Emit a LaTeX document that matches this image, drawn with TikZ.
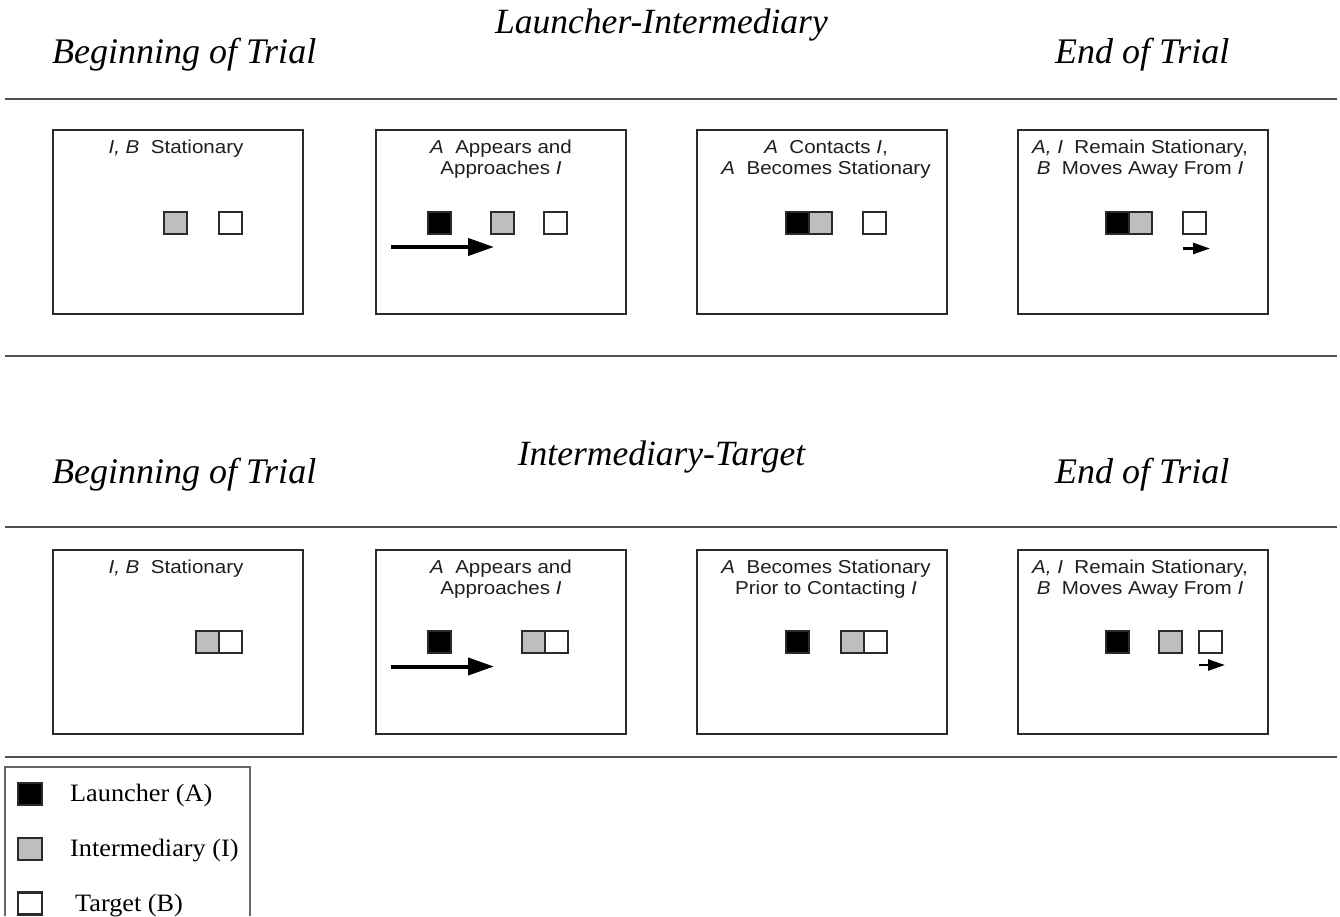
\documentclass[tikz,border=0pt]{standalone}
\usepackage{fontspec}
\setmainfont{Liberation Serif}
\newfontfamily\panelfont[FakeStretch=1.1]{Liberation Sans}
\newfontfamily\legfont[FakeStretch=1.05]{Liberation Serif}
\usetikzlibrary{arrows.meta}
\definecolor{edgegray}{HTML}{2A2A2A}
\definecolor{rulegray}{HTML}{505050}
\definecolor{midgray}{HTML}{BEBEBE}
\begin{document}
\begin{tikzpicture}[x=1pt,y=-1pt,
  hrule/.style={draw=rulegray, line width=2.4pt},
  panel/.style={draw=edgegray, line width=2pt, minimum width=250pt, minimum height=184pt, inner sep=0pt},
  sq/.style={draw=edgegray, line width=2pt, minimum width=23pt, minimum height=22pt, inner sep=0pt, outer sep=0pt},
  blk/.style={sq, fill=black},
  gry/.style={sq, fill=midgray},
  wht/.style={sq, fill=white},
  ttl/.style={font=\fontsize{36}{40}\selectfont\itshape, inner sep=0pt, anchor=base west},
  ttlc/.style={font=\fontsize{35.5}{40}\selectfont\itshape, inner sep=0pt, anchor=base},
  ptext/.style={font=\panelfont\fontsize{18.7}{21}\selectfont, text=black!88, inner sep=0pt, anchor=base},
  legtext/.style={font=\legfont\fontsize{25}{30}\selectfont, inner sep=0pt, anchor=base west},
  bigarrow/.style={line width=4pt, -{Triangle[length=26pt,width=17pt]}},
  smallarrow/.style={line width=2.5pt, -{Triangle[length=17pt,width=11pt]}}
]
\useasboundingbox[fill=white] (0,0) rectangle (1340,916);

% ---------- top section ----------
\node[ttl] (tb1) at (52,63) {Beginning of Trial};
\node[ttlc] (tm1) at (661.5,33) {Launcher-Intermediary};
\node[ttl] (te1) at (1055,63) {End of Trial};
\coordinate (r1a) at (5,99);   \coordinate (r1b) at (1337,99);
\coordinate (r2a) at (5,356);  \coordinate (r2b) at (1337,356);
\draw[hrule] (r1a) -- (r1b);
\draw[hrule] (r2a) -- (r2b);

\node[panel] (a1) at (178,222) {};
\node[panel] (a2) at (500.5,222) {};
\node[panel] (a3) at (821.5,222) {};
\node[panel] (a4) at (1142.5,222) {};

\node[ptext] (a1t1) at (176,153) {\textit{I, B}\ \ Stationary};
\node[ptext] (a2t1) at (501,153) {\textit{A}\ \ Appears and};
\node[ptext] (a2t2) at (501,174) {Approaches \textit{I}};
\node[ptext] (a3t1) at (826,153) {\textit{A}\ \ Contacts \textit{I},};
\node[ptext] (a3t2) at (826,174) {\textit{A}\ \ Becomes Stationary};
\node[ptext] (a4t1) at (1140,153) {\textit{A, I}\ \ Remain Stationary,};
\node[ptext] (a4t2) at (1140,174) {\textit{B}\ \ Moves Away From \textit{I}};

% panel 1
\node[gry] (a1g) at (175,222.5) {};
\node[wht] (a1w) at (230,222.5) {};
% panel 2
\node[blk] (a2k) at (439,222.5) {};
\node[gry] (a2g) at (502,222.5) {};
\node[wht] (a2w) at (555,222.5) {};
\coordinate (a2s) at (391,247);
\coordinate (a2e) at (494,247);
\draw[bigarrow] (a2s) -- (a2e);
% panel 3
\node[blk] (a3k) at (797.5,222.5) {};
\node[gry] (a3g) at (820.5,222.5) {};
\node[wht] (a3w) at (874.5,222.5) {};
% panel 4
\node[blk] (a4k) at (1117.5,222.5) {};
\node[gry] (a4g) at (1140.5,222.5) {};
\node[wht] (a4w) at (1194,222.5) {};
\coordinate (a4s) at (1183,248.5);
\coordinate (a4e) at (1210,248.5);
\draw[smallarrow] (a4s) -- (a4e);

% ---------- bottom section ----------
\node[ttl] (tb2) at (52,483) {Beginning of Trial};
\node[ttlc] (tm2) at (661.5,465) {Intermediary-Target};
\node[ttl] (te2) at (1055,483) {End of Trial};
\coordinate (r3a) at (5,527);  \coordinate (r3b) at (1337,527);
\coordinate (r4a) at (5,757);  \coordinate (r4b) at (1337,757);
\draw[hrule] (r3a) -- (r3b);
\draw[hrule] (r4a) -- (r4b);

\node[panel] (b1) at (178,642) {};
\node[panel] (b2) at (500.5,642) {};
\node[panel] (b3) at (821.5,642) {};
\node[panel] (b4) at (1142.5,642) {};

\node[ptext] (b1t1) at (176,573) {\textit{I, B}\ \ Stationary};
\node[ptext] (b2t1) at (501,573) {\textit{A}\ \ Appears and};
\node[ptext] (b2t2) at (501,594) {Approaches \textit{I}};
\node[ptext] (b3t1) at (826,573) {\textit{A}\ \ Becomes Stationary};
\node[ptext] (b3t2) at (826,594) {Prior to Contacting \textit{I}};
\node[ptext] (b4t1) at (1140,573) {\textit{A, I}\ \ Remain Stationary,};
\node[ptext] (b4t2) at (1140,594) {\textit{B}\ \ Moves Away From \textit{I}};

% panel 1
\node[gry] (b1g) at (207.5,641.5) {};
\node[wht] (b1w) at (230.5,641.5) {};
% panel 2
\node[blk] (b2k) at (439,641.5) {};
\node[gry] (b2g) at (533,641.5) {};
\node[wht] (b2w) at (556,641.5) {};
\coordinate (b2s) at (391,666.5);
\coordinate (b2e) at (494,666.5);
\draw[bigarrow] (b2s) -- (b2e);
% panel 3
\node[blk] (b3k) at (797.5,641.5) {};
\node[gry] (b3g) at (852.5,641.5) {};
\node[wht] (b3w) at (875.5,641.5) {};
% panel 4
\node[blk] (b4k) at (1117.5,641.5) {};
\node[gry] (b4g) at (1170,641.5) {};
\node[wht] (b4w) at (1210,641.5) {};
\coordinate (b4s) at (1198.5,665);
\coordinate (b4e) at (1225,665);
\draw[smallarrow] (b4s) -- (b4e);

% ---------- legend ----------
\coordinate (l1) at (5,916);
\coordinate (l2) at (5,767);
\coordinate (l3) at (250,767);
\coordinate (l4) at (250,916);
\draw[draw=gray!80!black, line width=1.2pt] (l1) -- (l2) -- (l3) -- (l4);
\node[blk, minimum width=24pt, line width=2.4pt] (lk) at (30,794) {};
\node[gry, minimum width=24pt, line width=2.4pt] (lg) at (30,849) {};
\node[wht, minimum width=24pt, line width=2.4pt] (lw) at (30,903.5) {};
\node[legtext] (lkt) at (70,801.5) {Launcher (A)};
\node[legtext] (lgt) at (70,856.5) {Intermediary (I)};
\node[legtext] (lwt) at (75,911.5) {Target (B)};
\end{tikzpicture}
\end{document}
